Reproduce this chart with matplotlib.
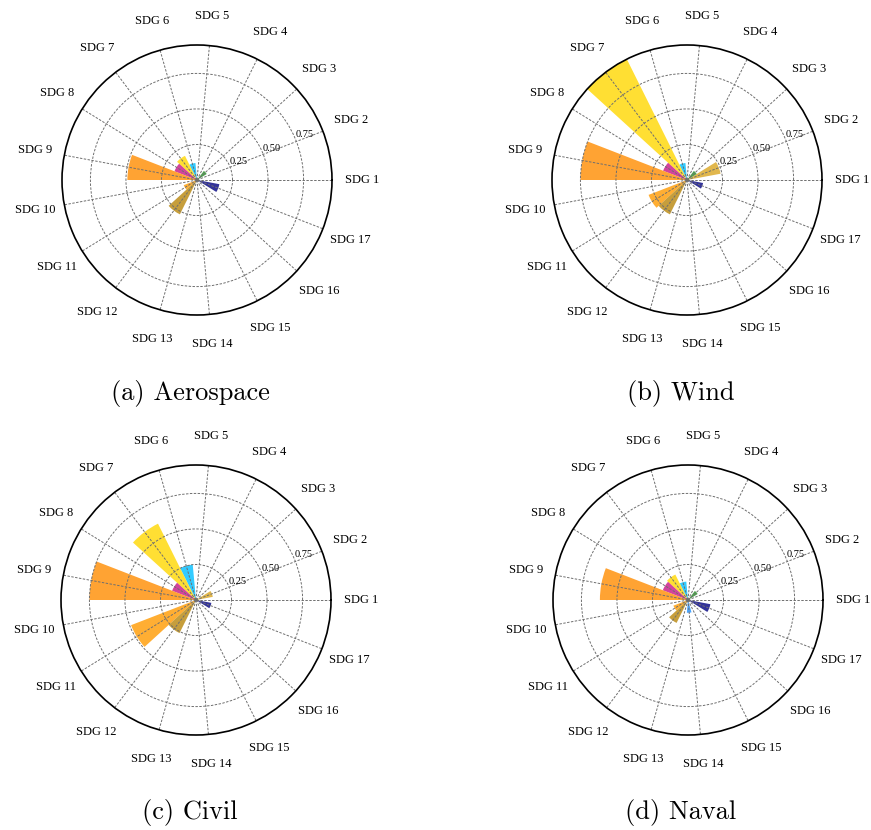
import numpy as np
import matplotlib
matplotlib.use("Agg")
import matplotlib.pyplot as plt

# SDG categories and per-sector scores
sdg_labels = [f"SDG {i}" for i in range(1, 18)]

aerospace = [0.00, 0.00, 0.08, 0.00, 0.00, 0.12, 0.19, 0.17, 0.49, 0.00,
             0.10, 0.27, 0.00, 0.00, 0.00, 0.00, 0.16]
wind = [0.00, 0.24, 0.08, 0.00, 0.00, 0.12, 0.95, 0.18, 0.75, 0.00,
        0.29, 0.27, 0.00, 0.00, 0.00, 0.00, 0.115]
civil = [0.00, 0.12, 0.00, 0.00, 0.00, 0.25, 0.60, 0.18, 0.75, 0.00,
         0.49, 0.26, 0.00, 0.00, 0.00, 0.00, 0.11]
naval = [0.00, 0.00, 0.08, 0.00, 0.00, 0.13, 0.20, 0.19, 0.62, 0.00,
         0.11, 0.18, 0.00, 0.09, 0.00, 0.00, 0.16]

sectors = ["(a) Aerospace", "(b) Wind", "(c) Civil", "(d) Naval"]
sector_values = [aerospace, wind, civil, naval]

sdg_colors = ["#E5243B", "#DAA520", "#228B22", "#C5192D", "#FF3A21",
              "#00BFFF", "#FFD700", "#C71585", "#FF8C00", "#DD1367",
              "#FF9A00", "#B8860B", "#3F7E44", "#1E90FF", "#56C02B",
              "#00689D", "#000080"]

radial_ticks = [0.25, 0.50, 0.75]

n = len(sdg_labels)
theta = np.arange(n) * 2 * np.pi / n
width = 2 * np.pi / n
r_max = max(max(v) for v in sector_values)

W, H = 871, 830
fig = plt.figure(figsize=(W / 100, H / 100), dpi=100)

centers = [(197, 180), (687, 180), (196, 600), (688, 600)]
caption_pos = [(190, 393), (681, 393), (190, 812), (681, 812)]
R = 135

for (cx, cy), (tx, ty), name, vals in zip(centers, caption_pos, sectors, sector_values):
    ax = fig.add_axes([(cx - R) / W, 1 - (cy + R) / H, 2 * R / W, 2 * R / H],
                      projection="polar")
    ax.bar(theta, vals, width=width, color=sdg_colors, alpha=0.8,
           linewidth=0, align="center")
    ax.set_ylim(0, r_max)
    ax.set_xticks(theta)
    ax.set_xticklabels(sdg_labels, fontfamily="Liberation Serif", fontsize=9)
    ax.tick_params(axis="x", pad=11)
    ax.set_yticks(radial_ticks)
    ax.set_yticklabels([f"{t:.2f}" for t in radial_ticks],
                       fontfamily="Liberation Serif", fontsize=7.5)
    ax.set_rlabel_position(22.5)
    ax.grid(True, color="#6f6f6f", linestyle=(0, (2.5, 1.5)), linewidth=0.7)
    ax.spines["polar"].set_linewidth(1.2)
    ax.spines["polar"].set_color("black")
    fig.text(tx / W, 1 - ty / H, name, fontfamily="cmr10", fontsize=19,
             ha="center", va="center")

fig.savefig("out.png", dpi=100)
